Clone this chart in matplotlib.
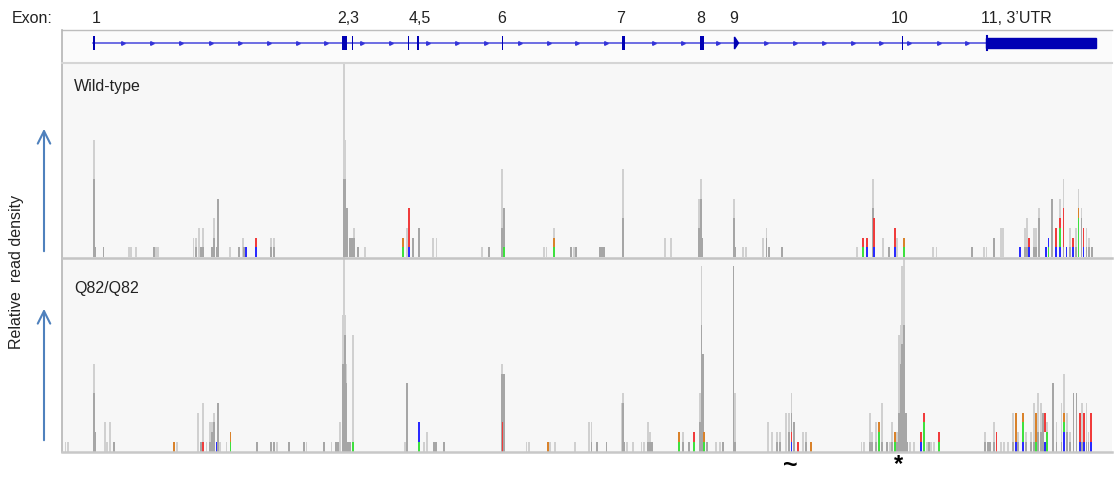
import matplotlib
matplotlib.use("Agg")
import matplotlib.pyplot as plt
from matplotlib.patches import Rectangle, Polygon

plt.rcParams['font.family'] = ['Liberation Sans', 'DejaVu Sans']

# ---- gene model (track coordinate) ----
exon_label_x = [96, 348, 420, 502, 621, 701, 734, 900, 1016]
exon_labels = ['1', '2,3', '4,5', '6', '7', '8', '9', '10', '11, 3\u2019UTR']
exon_start = [92.5, 342, 351.5, 407.5, 417, 501.5, 622, 699.5, 901.5, 986]
exon_end = [94.5, 347, 353, 409, 419, 503, 624.5, 704, 903, 1096]
intron_arrows = [123, 152, 181, 211, 240, 269, 298, 326, 362, 391, 428, 457, 486,
                 520, 549, 577, 606, 654, 683, 718, 766, 795, 824, 853, 881, 909, 939, 967]

# ---- wild-type coverage: position, total (light) and dense (dark) height ----
wt_pos = [94, 95.5, 103.6, 129, 131, 136, 153.6, 155.7, 157.9, 193.5, 196, 198.6, 200.7, 202.9,
          212, 213.6, 216.4, 217.9, 229.6, 238.6, 242.9, 244.3, 270.7, 273.6,
          343.6, 345.2, 346.7, 350, 351.8, 353.6, 357.9, 365, 407, 412.9, 418.6, 432.9, 436.4,
          482, 489, 502, 503.6, 543.6, 546.4, 554.3, 570.7, 573.6, 575.7, 600, 601.8, 603.6,
          622.9, 665, 670.7, 699.3, 700.7, 702.1, 733.6, 735, 743, 745.7, 762.9, 766.4, 768.6, 782,
          857, 872.9, 882.9, 888.6, 897, 932.9, 936.4, 972, 984, 986.4, 994, 1000.7, 1002.9,
          1025, 1027, 1034, 1036, 1039, 1052, 1060, 1063.6, 1070, 1075.7, 1078.6, 1081.4,
          1086.4, 1089.3, 1092]
wt_light = [12, 1, 1, 1, 1, 1, 1, 1, 1, 2, 2, 3, 1, 3,
            1, 4, 1, 6, 1, 1, 2, 1, 2, 2,
            12, 12, 5, 2, 2, 3, 1, 1, 3, 2, 3, 2, 2,
            1, 1, 9, 5, 1, 1, 3, 1, 1, 1, 1, 1, 1,
            9, 2, 2, 6, 8, 2, 6, 1, 1, 1, 2, 3, 1, 1,
            1, 8, 2, 1, 2, 1, 1, 1, 1, 1, 2, 3, 3,
            3, 4, 3, 3, 5, 6, 6, 8, 3, 3, 7, 5,
            3, 2, 1]
wt_dark = [8, 1, 1, 0, 0, 0, 1, 0, 0, 0, 1, 0, 1, 1,
           1, 2, 1, 6, 0, 1, 0, 1, 1, 1,
           8, 8, 5, 2, 2, 2, 1, 0, 0, 2, 3, 0, 0,
           0, 1, 3, 5, 0, 0, 0, 1, 0, 1, 1, 1, 1,
           4, 0, 0, 3, 6, 2, 4, 1, 0, 0, 0, 2, 1, 1,
           0, 5, 0, 1, 0, 0, 0, 1, 0, 0, 2, 0, 0,
           1, 1, 1, 1, 4, 6, 1, 1, 1, 1, 1, 4,
           1, 1, 1]
# mismatch segments: position, base, low, high
wt_mm_pos = [245.7, 256.4, 256.4, 402.9, 402.9, 408.6, 408.6, 504.3, 554.3, 554.3,
             862.9, 862.9, 867, 867, 874.3, 874.3, 895, 895, 904.3, 904.3,
             1020, 1029, 1029, 1045.7, 1048.6, 1048.6, 1055.7, 1055.7, 1060, 1060, 1060,
             1063.6, 1066.4, 1072.9, 1072.9, 1078.6, 1078.6, 1083.6, 1083.6]
wt_mm_base = ['C', 'C', 'T', 'A', 'G', 'C', 'T', 'A', 'A', 'G',
              'A', 'T', 'C', 'T', 'C', 'T', 'C', 'T', 'A', 'G',
              'C', 'C', 'T', 'C', 'A', 'C', 'C', 'T', 'C', 'A', 'T',
              'T', 'C', 'C', 'T', 'A', 'G', 'C', 'T']
wt_mm_lo = [0, 0, 1, 0, 1, 0, 1, 0, 0, 1,
            0, 1, 0, 1, 0, 1, 0, 1, 0, 1,
            0, 0, 1, 0, 0, 1, 0, 1, 0, 1, 3,
            1, 0, 0, 1, 0, 4, 0, 1]
wt_mm_hi = [1, 1, 2, 1, 2, 1, 5, 1, 1, 2,
            1, 2, 1, 2, 1, 4, 1, 3, 1, 2,
            1, 1, 2, 1, 1, 2, 1, 3, 1, 3, 4,
            5, 1, 1, 2, 4, 5, 1, 3]

# ---- Q82/Q82 coverage ----
q_pos = [65.4, 67.9, 94, 95.5, 105, 107, 110, 114.3, 177, 197.9, 200.7, 202.9, 206.4, 210,
         212, 214.3, 217.9, 220, 226.4, 257, 270.7, 273.6, 277, 289.3, 303.6, 306.4, 323.6,
         331.4, 335.7, 338, 340, 343.2, 344.6, 346, 348, 350, 352.9, 405, 407, 423.6, 427,
         434, 436, 444.3, 502, 503.6, 526.4, 529.3, 550, 555, 575, 589.3, 591.4, 597, 606.4,
         621.4, 622.9, 624.3, 627, 632.9, 641.4, 643.6, 647.9, 650, 652, 682.9, 688.6,
         700, 701.4, 702.9, 707, 715.7, 720, 722.9, 733.5, 735, 767.9, 772, 777, 780,
         785.7, 788.6, 791.4, 793.6, 802.9, 805.7, 861.4, 864.3, 870, 872, 875.7, 882,
         887, 890, 892, 897, 899, 900.8, 902.3, 904, 905.7, 907.5, 910, 914.3, 927, 929,
         931, 934, 985, 988, 990, 993.6, 1000.7, 1003.6, 1007.9, 1012.9, 1018, 1025.7,
         1030.7, 1034.3, 1037.9, 1040.7, 1042.9, 1047, 1052.9, 1056.4, 1061.4, 1064.3,
         1067, 1070, 1073.6, 1076.4, 1082, 1086.4, 1088.5]
q_light = [1, 1, 9, 2, 3, 1, 3, 1, 1, 4, 1, 5, 1, 3,
           3, 4, 5, 1, 1, 1, 1, 1, 1, 1, 1, 1, 1,
           1, 1, 1, 3, 14, 14, 9, 1, 1, 12, 1, 7, 1, 2,
           1, 1, 1, 9, 8, 1, 1, 1, 1, 1, 3, 3, 1, 1,
           5, 6, 1, 1, 1, 1, 1, 3, 2, 1, 2, 1,
           6, 19, 10, 1, 1, 1, 1, 19, 6, 3, 2, 2, 2,
           4, 4, 6, 3, 2, 2, 1, 1, 4, 2, 3, 5,
           1, 1, 3, 2, 12, 13, 19, 21, 4, 1, 1, 1, 1, 1,
           1, 1, 2, 1, 1, 3, 1, 1, 1, 4, 2, 2,
           2, 5, 6, 5, 4, 3, 7, 3, 5, 8,
           4, 2, 6, 6, 5, 5, 2]
q_dark = [0, 0, 6, 2, 0, 0, 0, 1, 0, 0, 1, 0, 0, 1,
          2, 3, 5, 0, 0, 1, 1, 1, 0, 1, 1, 0, 1,
          0, 1, 1, 0, 9, 12, 7, 1, 1, 0, 0, 7, 0, 0,
          1, 1, 1, 8, 8, 0, 0, 0, 0, 0, 0, 1, 1, 1,
          0, 5, 1, 0, 0, 0, 0, 1, 1, 1, 1, 1,
          3, 13, 10, 1, 0, 0, 1, 19, 1, 0, 0, 1, 1,
          0, 2, 4, 3, 0, 1, 0, 0, 1, 1, 1, 1,
          1, 0, 1, 1, 4, 9, 11, 13, 4, 1, 0, 0, 0, 1,
          0, 0, 1, 1, 1, 1, 0, 0, 0, 1, 1, 1,
          1, 1, 2, 2, 4, 1, 7, 1, 1, 2,
          2, 1, 6, 6, 1, 1, 1]
q_mm_pos = [174.3, 202.9, 216.4, 230.4, 230.4, 352.9, 418.6, 418.6, 502.5, 547.9,
            679.3, 679.3, 694.3, 694.3, 703.6, 703.6, 791.4, 791.4, 797.9, 810.7,
            878.6, 878.6, 895, 895, 920.7, 920.7, 923.6, 923.6, 938.6, 938.6,
            996.4, 1015.7, 1015.7, 1022.9, 1022.9, 1022.9, 1035.7, 1035.7, 1045, 1045,
            1047, 1064.3, 1064.3, 1064.3, 1080, 1080, 1084.3, 1084.3, 1090.7, 1090.7]
q_mm_base = ['G', 'T', 'C', 'A', 'G', 'A', 'A', 'C', 'T', 'G',
             'A', 'G', 'A', 'T', 'A', 'G', 'C', 'T', 'T', 'G',
             'A', 'G', 'A', 'G', 'C', 'T', 'A', 'T', 'A', 'T',
             'T', 'C', 'G', 'C', 'A', 'G', 'A', 'G', 'C', 'T',
             'A', 'C', 'A', 'G', 'C', 'T', 'C', 'T', 'C', 'T']
q_mm_lo = [0, 0, 0, 0, 1, 0, 0, 1, 0, 0,
           0, 1, 0, 1, 0, 1, 0, 1, 0, 0,
           0, 2, 0, 1, 0, 1, 0, 3, 0, 1,
           0, 0, 1, 0, 1, 3, 0, 1, 0, 2,
           0, 0, 2, 3, 0, 1, 0, 1, 0, 1]
q_mm_hi = [1, 1, 1, 1, 2, 1, 1, 3, 3, 1,
           1, 2, 1, 2, 1, 2, 1, 2, 1, 1,
           2, 3, 1, 2, 1, 2, 3, 4, 1, 2,
           2, 1, 4, 1, 3, 4, 1, 4, 1, 4,
           2, 2, 3, 4, 1, 4, 1, 4, 1, 4]

base_colors = {'A': '#3ee03e', 'C': '#2a2aff', 'G': '#d9822b', 'T': '#f03c3c'}

W, H = 1115, 479
fig = plt.figure(figsize=(W / 100, H / 100), dpi=100)


def px_axes(x0, y0, x1, y1):
    return fig.add_axes([x0 / W, 1 - y1 / H, (x1 - x0) / W, (y1 - y0) / H])


def clean(ax, face):
    ax.set_facecolor(face)
    ax.set_xticks([])
    ax.set_yticks([])
    for s in ax.spines.values():
        s.set_visible(False)
    ax.set_xlim(62, 1112)


# gene track
ax_gene = px_axes(62, 30, 1112, 63)
clean(ax_gene, '#fbfbfb')
ax_gene.set_ylim(63, 30)
ax_gene.plot([93, 986], [43, 43], color='#4646dc', lw=1.1, zorder=1)
ax_gene.plot(intron_arrows, [43] * len(intron_arrows), ls='none', marker='>',
             ms=2.6, color='#3434d8', zorder=2)
for s, e in zip(exon_start, exon_end):
    if e - s > 50:
        ax_gene.add_patch(Rectangle((s, 38), e - s, 10, color='#0000b4', zorder=3))
        ax_gene.plot([s + 0.5, s + 0.5], [36, 50], color='#0000b4', lw=1.5, zorder=3)
    else:
        ax_gene.add_patch(Rectangle((s, 36), e - s, 14, color='#0000b4', lw=0, zorder=3))
ax_gene.add_patch(Polygon([[734.5, 37], [738.5, 43], [734.5, 49]], color='#0000b4', zorder=3))


def draw_cov(ax, pos, light, dark, mpos, mbase, mlo, mhi):
    ax.axvline(344, color='#c9c9c9', lw=1.2, zorder=0)
    ax.bar(pos, light, width=1.8, color='#d0d0d0', lw=0, zorder=1)
    ax.bar(pos, dark, width=1.8, color='#a6a6a6', lw=0, zorder=2)
    for p, b, lo, hi in zip(mpos, mbase, mlo, mhi):
        ax.bar(p, hi - lo, bottom=lo, width=1.8, color=base_colors[b], lw=0, zorder=3)


ax_wt = px_axes(62, 63, 1112, 258)
clean(ax_wt, '#f7f7f7')
ax_wt.set_ylim(-0.1, 19.9)
draw_cov(ax_wt, wt_pos, wt_light, wt_dark, wt_mm_pos, wt_mm_base, wt_mm_lo, wt_mm_hi)

ax_q = px_axes(62, 258, 1112, 452)
clean(ax_q, '#f7f7f7')
ax_q.set_ylim(-0.03, 19.87)
draw_cov(ax_q, q_pos, q_light, q_dark, q_mm_pos, q_mm_base, q_mm_lo, q_mm_hi)

# overlay in pixel coordinates for frame lines, labels and arrows
ov = fig.add_axes([0, 0, 1, 1])
ov.set_xlim(0, W)
ov.set_ylim(H, 0)
ov.axis('off')
ov.patch.set_alpha(0)
ov.plot([62, 1112], [30, 30], color='#bdbdbd', lw=1)
ov.plot([62, 62], [30, 452], color='#b5b5b5', lw=1.2)
ov.plot([62, 1112], [63, 63], color='#d5d5d5', lw=1.5)
ov.plot([62, 1112], [258, 258], color='#c4c4c4', lw=1.8)
ov.plot([62, 1112], [452, 452], color='#c8c8c8', lw=1.8)

ov.text(12, 18, 'Exon:', fontsize=11.5, va='center', ha='left', color='#222222')
for x, lab in zip(exon_label_x, exon_labels):
    ov.text(x, 18, lab, fontsize=11.5, va='center', ha='center', color='#222222')
ov.text(74, 86, 'Wild-type', fontsize=11.5, va='center', ha='left', color='#222222')
ov.text(74, 289, 'Q82/Q82', fontsize=11.5, va='center', ha='left', color='#222222')
ov.text(17, 272, 'Relative  read density', fontsize=11.5, rotation=90,
        va='center', ha='center', color='#222222')

arrow_kw = dict(arrowstyle='->,head_length=0.9,head_width=0.45', color='#4f81bd', lw=1.5)
ov.annotate('', xy=(44, 126), xytext=(44, 254), arrowprops=arrow_kw)
ov.annotate('', xy=(44, 306), xytext=(44, 443), arrowprops=arrow_kw)

ov.text(790, 466, '~', fontsize=18, fontweight='bold', ha='center', va='center')
ov.text(899, 465, '*', fontsize=17, fontweight='bold', ha='center', va='center')

fig.savefig('out.png', dpi=100)
